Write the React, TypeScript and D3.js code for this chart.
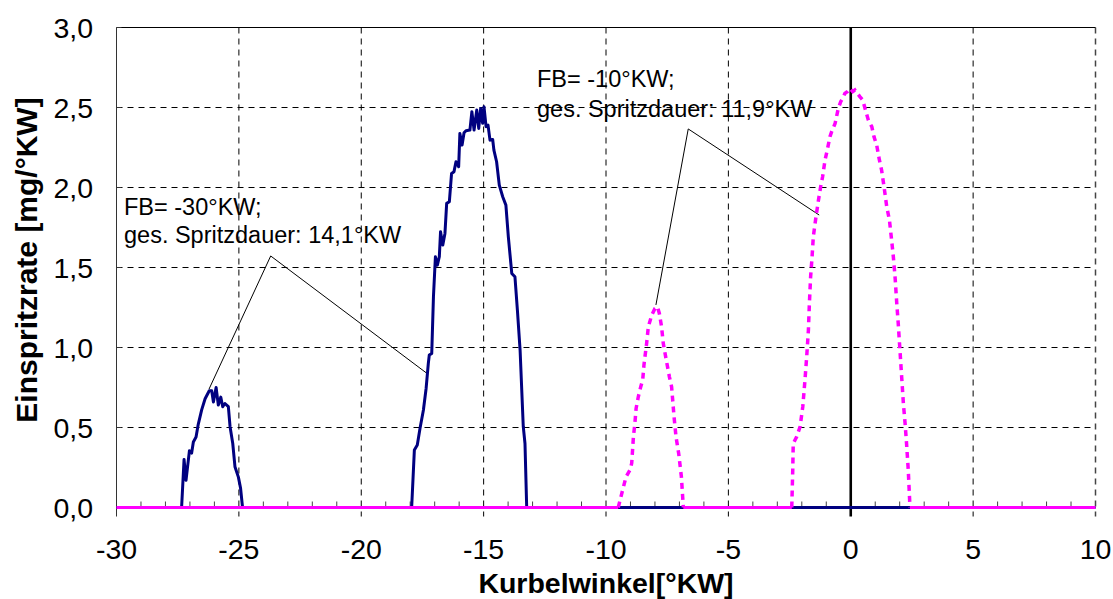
import React from "react";
import * as d3 from "d3";

// ---- data ----
const xTicks = [-30, -25, -20, -15, -10, -5, 0, 5, 10];
const yTicks = [0, 0.5, 1.0, 1.5, 2.0, 2.5, 3.0];

// FB = -30°KW (solid navy): injection 1 and 2
const blueInj1: [number, number][] = [
  [-27.34, 0], [-27.24, 0.30], [-27.16, 0.17], [-27.02, 0.355], [-26.93, 0.34],
  [-26.86, 0.41], [-26.75, 0.44], [-26.66, 0.52], [-26.52, 0.61], [-26.38, 0.68],
  [-26.21, 0.73], [-26.11, 0.73], [-26.04, 0.66], [-25.93, 0.75], [-25.84, 0.64],
  [-25.74, 0.69], [-25.66, 0.63], [-25.57, 0.65], [-25.43, 0.63], [-25.36, 0.505],
  [-25.25, 0.40], [-25.16, 0.255], [-25.02, 0.19], [-24.93, 0.12], [-24.85, 0],
];
const blueInj2: [number, number][] = [
  [-17.94, 0], [-17.83, 0.359], [-17.71, 0.39], [-17.60, 0.494], [-17.46, 0.609],
  [-17.35, 0.744], [-17.26, 0.90], [-17.22, 0.953], [-17.12, 0.963], [-17.05, 1.317],
  [-16.97, 1.567], [-16.89, 1.515], [-16.81, 1.567], [-16.76, 1.724], [-16.67, 1.64],
  [-16.58, 1.713], [-16.51, 1.901], [-16.40, 1.911], [-16.31, 2.088], [-16.21, 2.099],
  [-16.13, 2.161], [-16.02, 2.13], [-15.97, 2.338], [-15.88, 2.265], [-15.80, 2.342],
  [-15.72, 2.355], [-15.56, 2.359], [-15.48, 2.474], [-15.39, 2.359], [-15.28, 2.484],
  [-15.20, 2.369], [-15.12, 2.494], [-15.04, 2.401], [-14.985, 2.505], [-14.90, 2.38],
  [-14.82, 2.39], [-14.74, 2.296], [-14.63, 2.30], [-14.58, 2.234], [-14.47, 2.161],
  [-14.36, 2.015], [-14.22, 1.942], [-14.09, 1.89], [-13.99, 1.692], [-13.85, 1.463],
  [-13.72, 1.442], [-13.62, 1.234], [-13.51, 0.984], [-13.38, 0.505], [-13.31, 0.40],
  [-13.24, 0],
];

// FB = -10°KW (dotted magenta): injection 1 and 2
const magInj1: [number, number][] = [
  [-9.50, 0], [-9.32, 0.109], [-9.18, 0.192], [-9.02, 0.234], [-8.95, 0.276],
  [-8.88, 0.442], [-8.82, 0.526], [-8.77, 0.619], [-8.68, 0.692], [-8.58, 0.755],
  [-8.50, 0.797], [-8.45, 0.89], [-8.34, 1.026], [-8.27, 1.13], [-8.13, 1.203],
  [-8.00, 1.244], [-7.90, 1.255], [-7.82, 1.213], [-7.73, 1.13], [-7.66, 1.026],
  [-7.55, 0.932], [-7.41, 0.817], [-7.32, 0.755], [-7.22, 0.567], [-7.14, 0.442],
  [-7.03, 0.338], [-6.92, 0.192], [-6.84, 0],
];
const magInj2: [number, number][] = [
  [-2.41, 0], [-2.37, 0.234], [-2.35, 0.40], [-2.21, 0.442], [-2.07, 0.505],
  [-1.96, 0.63], [-1.87, 0.797], [-1.80, 0.942], [-1.73, 1.109], [-1.69, 1.276],
  [-1.64, 1.442], [-1.58, 1.567], [-1.53, 1.692], [-1.42, 1.817], [-1.32, 1.92],
  [-1.23, 2.005], [-1.15, 2.067], [-1.05, 2.172], [-0.96, 2.234], [-0.85, 2.317],
  [-0.78, 2.349], [-0.64, 2.40], [-0.51, 2.494], [-0.41, 2.536], [-0.33, 2.557],
  [-0.24, 2.588], [-0.14, 2.599], [-0.03, 2.619], [0.08, 2.599], [0.17, 2.609],
  [0.27, 2.588], [0.38, 2.567], [0.49, 2.547], [0.62, 2.474], [0.72, 2.421],
  [0.86, 2.38], [0.95, 2.317], [1.06, 2.265], [1.17, 2.172], [1.26, 2.109],
  [1.36, 2.005], [1.47, 1.88], [1.58, 1.797], [1.67, 1.671], [1.74, 1.567],
  [1.81, 1.442], [1.88, 1.276], [1.94, 1.151], [2.01, 0.984], [2.08, 0.817],
  [2.15, 0.651], [2.22, 0.526], [2.28, 0.40], [2.35, 0.234], [2.42, 0],
];

// annotation leader lines: [end1, apex, end2]
const leaderLeft: [number, number][] = [[-26.22, 0.74], [-23.7, 1.572], [-17.33, 0.84]];
const leaderRight: [number, number][] = [[-7.96, 1.266], [-6.64, 2.366], [-1.29, 1.828]];
const annLeft = ["FB= -30°KW;", "ges. Spritzdauer: 14,1°KW"];
const annRight = ["FB= -10°KW;", "ges. Spritzdauer: 11,9°KW"];

const X_DOMAIN: [number, number] = [-30, 10];
const Y_DOMAIN: [number, number] = [0, 3];

const FONT = "'Liberation Sans', Arial, Helvetica, sans-serif";

export default function App() {
  const W = 1113, H = 599;
  const x = d3.scaleLinear().domain(X_DOMAIN).range([116.5, 1095.5]);
  const y = d3.scaleLinear().domain(Y_DOMAIN).range([507.5, 27.5]);
  const line = d3.line<[number, number]>().x(d => x(d[0])).y(d => y(d[1]));

  // full series: zeros between injections
  const blueFull: [number, number][] = [
    [X_DOMAIN[0], 0], ...blueInj1, ...blueInj2, [X_DOMAIN[1], 0],
  ];
  const magZero: [number, number][][] = [
    [[X_DOMAIN[0], 0], magInj1[0]],
    [magInj1[magInj1.length - 1], magInj2[0]],
    [magInj2[magInj2.length - 1], [X_DOMAIN[1], 0]],
  ];
  const minor = d3.range(X_DOMAIN[0], X_DOMAIN[1] + 1, 1).filter(v => v % 5 !== 0);
  const y0 = y(0), yTop = y(3);

  return (
    <svg width={W} height={H} style={{ position: "absolute", left: 0, top: 0, background: "#fff" }}
      fontFamily={FONT}>
      {/* horizontal grid */}
      {yTicks.filter(v => v > 0 && v < 3).map(v => (
        <line key={"hg" + v} x1={x(-30)} x2={x(10)} y1={y(v)} y2={y(v)}
          stroke="#000" strokeWidth={1} strokeDasharray="6,5" />
      ))}
      {/* vertical grid */}
      {xTicks.filter(v => v > -30 && v !== 0).map(v => (
        <line key={"vg" + v} x1={x(v)} x2={x(v)} y1={yTop} y2={y0 + 9}
          stroke={v === 10 ? "#444" : "#000"} strokeWidth={v === 10 ? 1.5 : 1} strokeDasharray="6,5" />
      ))}
      {/* frame */}
      <line x1={x(-30)} x2={x(10)} y1={yTop} y2={yTop} stroke="#000" strokeWidth={1} />
      <line x1={x(-30)} x2={x(-30)} y1={yTop} y2={y0 + 9} stroke="#333" strokeWidth={1} />
      <line x1={x(-30)} x2={x(10)} y1={y0} y2={y0} stroke="#000" strokeWidth={1} />
      {/* minor x ticks (inside) */}
      {minor.map(v => (
        <line key={"mt" + v} x1={x(v)} x2={x(v)} y1={y0} y2={y0 - 6} stroke="#444" strokeWidth={1} />
      ))}
      {/* y ticks (inside) */}
      {yTicks.map(v => (
        <line key={"yt" + v} x1={x(-30)} x2={x(-30) + 5} y1={y(v)} y2={y(v)} stroke="#333" strokeWidth={1} />
      ))}
      {/* zero line */}
      <line x1={x(0)} x2={x(0)} y1={yTop} y2={y0 + 9} stroke="#000" strokeWidth={2.6} />

      {/* leader lines */}
      <path d={line(leaderLeft) || ""} fill="none" stroke="#000" strokeWidth={1} />
      <path d={line(leaderRight) || ""} fill="none" stroke="#000" strokeWidth={1} />

      {/* blue series */}
      <path d={line(blueFull) || ""} fill="none" stroke="#000080" strokeWidth={3} strokeLinejoin="round" />
      {/* magenta series */}
      {magZero.map((seg, i) => (
        <path key={"mz" + i} d={line(seg) || ""} fill="none" stroke="#FF00FF" strokeWidth={3} />
      ))}
      {[magInj1, magInj2].map((s, i) => (
        <path key={"mi" + i} d={line(s) || ""} fill="none" stroke="#FF00FF" strokeWidth={3.5}
          strokeDasharray="6,5" />
      ))}

      {/* tick labels */}
      {xTicks.map(v => (
        <text key={"xl" + v} x={x(v)} y={559} textAnchor="middle" fontSize={28.5} fill="#000">
          {String(v)}
        </text>
      ))}
      {yTicks.map(v => (
        <text key={"yl" + v} x={93} y={y(v) + 10} textAnchor="end" fontSize={28.5} fill="#000">
          {v.toFixed(1).replace(".", ",")}
        </text>
      ))}

      {/* axis titles */}
      <text x={606} y={593} textAnchor="middle" fontSize={28.5} fontWeight="bold" fill="#000">
        Kurbelwinkel[°KW]
      </text>
      <text transform="translate(37,260) rotate(-90)" textAnchor="middle" fontSize={30}
        fontWeight="bold" fill="#000">
        Einspritzrate [mg/°KW]
      </text>

      {/* annotations */}
      {annLeft.map((t, i) => (
        <text key={"al" + i} x={124} y={215 + i * 28} fontSize={23.5} fill="#000">{t}</text>
      ))}
      {annRight.map((t, i) => (
        <text key={"ar" + i} x={537} y={87 + i * 30} fontSize={23.5} fill="#000">{t}</text>
      ))}
    </svg>
  );
}
